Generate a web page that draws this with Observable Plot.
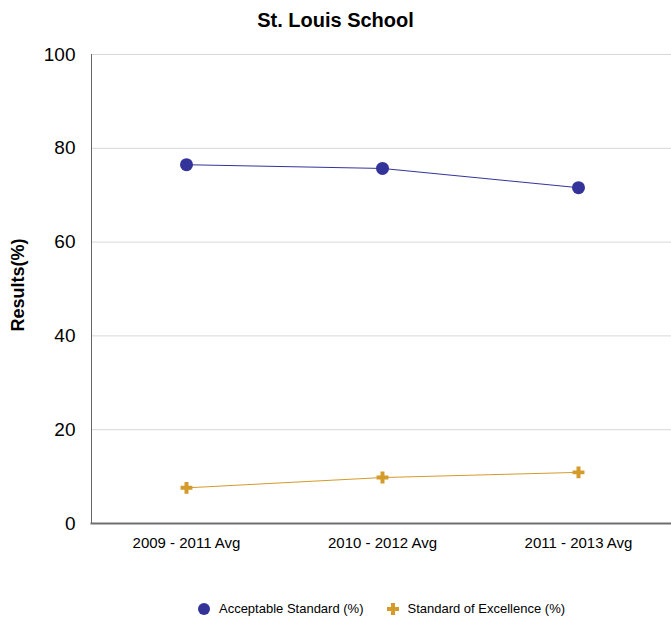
<!DOCTYPE html>
<html>
<head>
<meta charset="utf-8">
<script src="https://cdn.jsdelivr.net/npm/d3@7"></script>
<script src="https://cdn.jsdelivr.net/npm/@observablehq/plot@0.6"></script>
<style>
  html, body { margin: 0; padding: 0; background: #fff; }
  body { width: 671px; font-family: "Liberation Sans", Arial, sans-serif; }
  #title { height: 40px; line-height: 40px; text-align: center; font-weight: bold; font-size: 20px; color: #000; }
  #legend { height: 27px; padding-left: 91px; display: flex; justify-content: center; align-items: center; font-size: 13px; color: #000; }
  #legend .item { display: flex; align-items: center; margin: 0 11px; }
  #legend svg { margin-right: 8px; }
</style>
</head>
<body>
<div id="title">St. Louis School</div>
<div id="chart"></div>
<div id="legend"></div>
<script>
const categories = ["2009 - 2011 Avg", "2010 - 2012 Avg", "2011 - 2013 Avg"];
const acceptable = [76.5, 75.7, 71.6];
const excellence = [7.6, 9.8, 10.9];
const seriesNames = ["Acceptable Standard (%)", "Standard of Excellence (%)"];
const seriesColors = ["#333399", "#D49A2A"];
const yTicks = [0, 20, 40, 60, 80, 100];

const rows = [];
categories.forEach((c, i) => {
  rows.push({cat: c, value: acceptable[i], series: seriesNames[0]});
  rows.push({cat: c, value: excellence[i], series: seriesNames[1]});
});
const accRows = rows.filter(d => d.series === seriesNames[0]);
const excRows = rows.filter(d => d.series === seriesNames[1]);

const chart = Plot.plot({
  width: 671,
  height: 555,
  marginTop: 14,
  marginBottom: 72,
  marginLeft: 91,
  marginRight: 0,
  style: { fontFamily: "Liberation Sans, Arial, sans-serif", background: "#fff" },
  x: { type: "point", domain: categories, range: [186, 578], padding: 0, label: null },
  y: { domain: [0, 100], ticks: yTicks, label: null },
  marks: [
    Plot.gridY(yTicks, { stroke: "#d8d8d8", strokeOpacity: 1 }),
    Plot.axisY(yTicks, { tickSize: 0, tickPadding: 16, fontSize: 19, fill: "#000", label: null }),
    Plot.text(["Results(%)"], { frameAnchor: "left", textAnchor: "middle", dx: -73, dy: -4, rotate: -90, fontSize: 18, fontWeight: "bold", fill: "#000" }),
    Plot.axisX({ tickSize: 0, tickPadding: 14, fontSize: 15, fill: "#000", label: null }),
    Plot.frame({ anchor: "left", stroke: "#666", strokeWidth: 1 }),
    Plot.frame({ anchor: "bottom", stroke: "#6e6e6e", strokeWidth: 2 }),
    Plot.line(accRows, { x: "cat", y: "value", stroke: seriesColors[0], strokeWidth: 1 }),
    Plot.line(excRows, { x: "cat", y: "value", stroke: seriesColors[1], strokeWidth: 1 }),
    Plot.dot(accRows, { x: "cat", y: "value", r: 6.5, fill: seriesColors[0], symbol: "circle" }),
    Plot.dot(excRows, { x: "cat", y: "value", r: 5, fill: seriesColors[1], stroke: "none", symbol: "cross" })
  ]
});
document.getElementById("chart").appendChild(chart);

const legend = document.getElementById("legend");
seriesNames.forEach((name, i) => {
  const item = document.createElement("div");
  item.className = "item";
  const sym = i === 0
    ? `<svg width="14" height="14"><circle cx="7" cy="7" r="6" fill="${seriesColors[0]}"/></svg>`
    : `<svg width="14" height="14"><path transform="translate(7,7)" d="${d3.symbol(d3.symbolCross, 80)()}" fill="${seriesColors[1]}"/></svg>`;
  item.innerHTML = sym + `<span>${name}</span>`;
  legend.appendChild(item);
});
</script>
</body>
</html>
